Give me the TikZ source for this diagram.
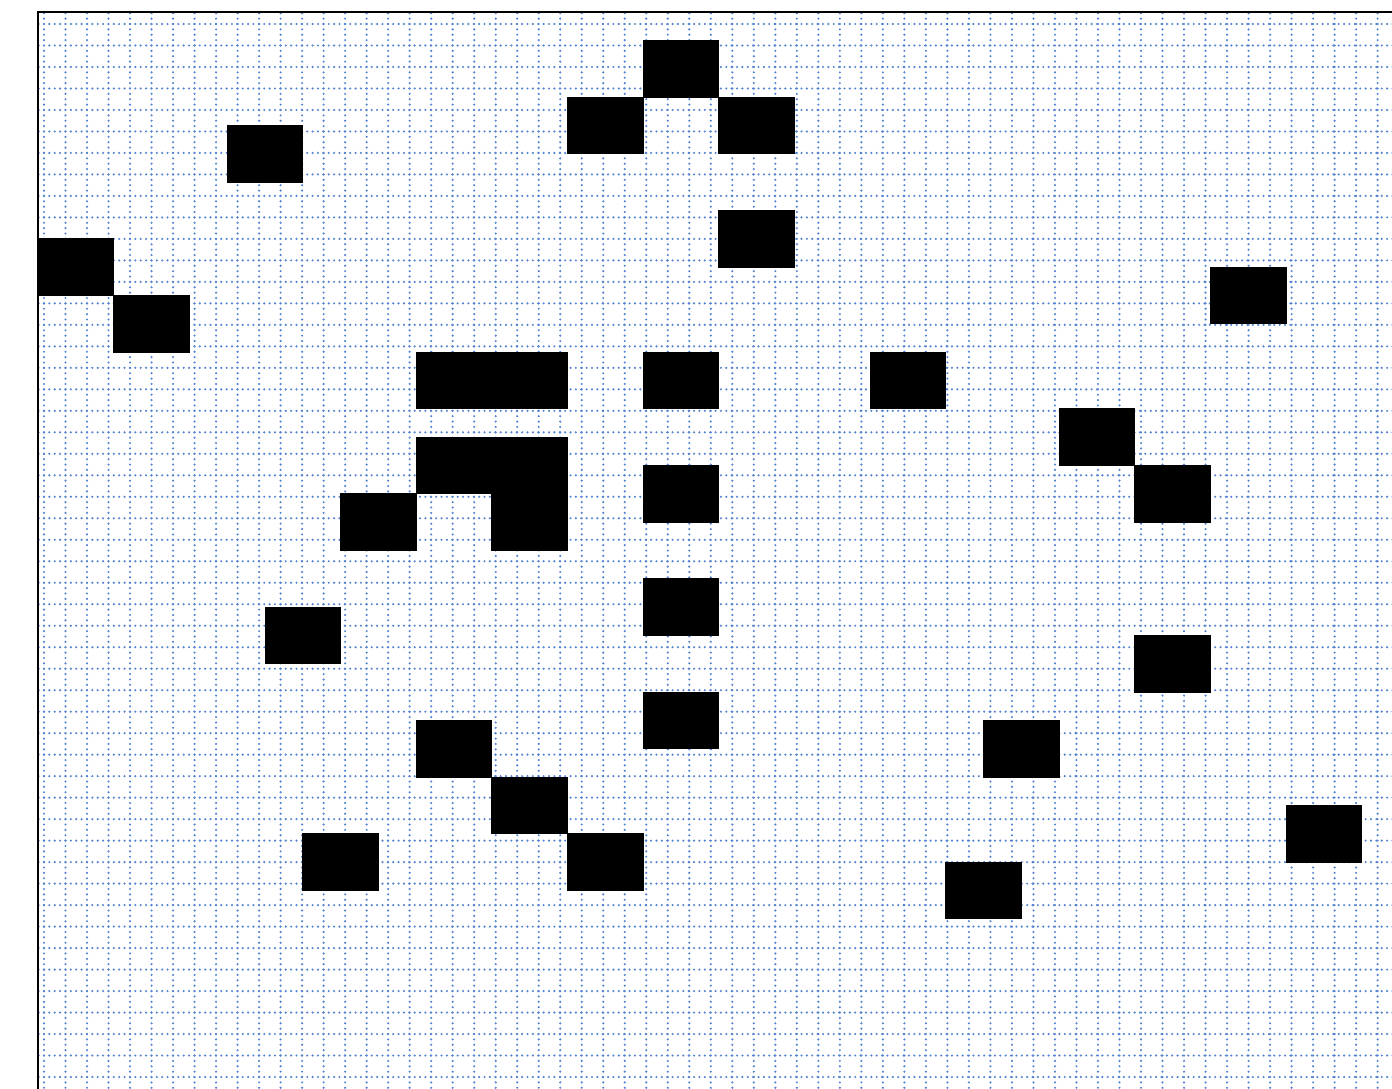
\documentclass[tikz,border=0pt]{standalone}
\definecolor{gridblue}{RGB}{85,132,208}
\begin{document}
\begin{tikzpicture}[x=1pt,y=-1pt,
  gridline/.style={gridblue, line width=2.4pt, line cap=round, dash pattern=on 0pt off 5.3725pt},
  blk/.style={fill=black, draw=black, line width=0.8pt},
  frameline/.style={draw=black, line width=2pt}]
\useasboundingbox (0,0) rectangle (1392,1088);
\begin{scope}
  \clip (38,12) rectangle (1392,1088);
  \foreach \k in {0,...,62}
    \draw[gridline] ({44+21.51*\k},{24-21.49}) -- ({44+21.51*\k},1100);
  \foreach \k in {0,...,49}
    \draw[gridline] ({44-21.51},{24+21.49*\k}) -- (1400,{24+21.49*\k});
\end{scope}
\begin{scope}[shift={(38,12)}, x=37.82pt, y=-28.34pt]
  \foreach \n/\m in {16/1,14/3,18/3,5/4,18/7,0/8,31/9,2/10,
                     10/12,12/12,16/12,22/12,27/14,
                     10/15,12/15,12/17,8/17,16/16,29/16,
                     16/20,6/21,29/22,16/24,10/25,25/25,
                     12/27,33/28,7/29,14/29,24/30}
    \draw[blk] (\n,\m) rectangle ++(2,2);
\end{scope}
\draw[frameline] (1400,12) -- (38,12) -- (38,1100);
\end{tikzpicture}
\end{document}
